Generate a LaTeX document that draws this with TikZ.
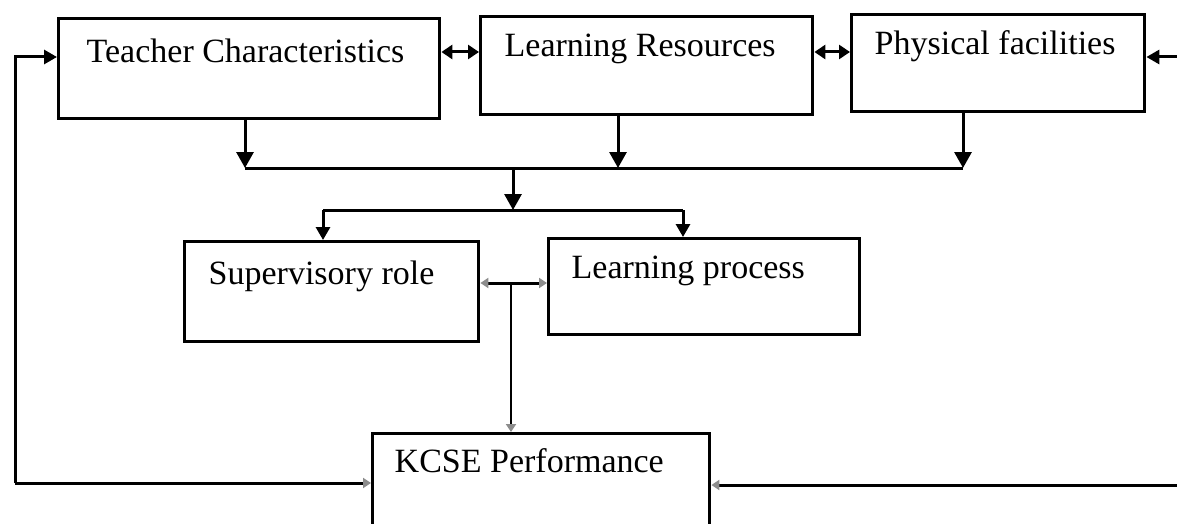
\documentclass[tikz,border=0pt]{standalone}
\usepackage{fontspec}
\setmainfont{Liberation Serif}
\usepackage{tikz}
\usetikzlibrary{arrows.meta,positioning}

\begin{document}
\begin{tikzpicture}[x=0.5pt,y=-0.5pt,line width=1.5pt]
\tikzset{box/.style={draw,line width=1.7pt,anchor=north west,align=flush left,inner ysep=0pt,font=\fontsize{17}{20}\selectfont},
  arr/.style={-{Triangle[length=8pt,width=8.5pt]}},
  arrs/.style={-{Triangle[length=6.5pt,width=7pt]}},
  dbl/.style={{Triangle[length=5.5pt,width=7pt]}-{Triangle[length=5.5pt,width=7pt]}},
  faint/.style={-{Triangle[length=4pt,width=5pt,color=black!45]}}}
\useasboundingbox (0,0) rectangle (1177,524);

% ---------- top row ----------
\node[box,inner xsep=14pt,text width=162.5pt,text height=22pt,text depth=28pt] (tc) at (57,17) {Teacher Characteristics};
\node[box,inner xsep=12pt,text width=142pt,text height=20pt,text depth=29pt] (lr) at (479,15) {Learning Resources};
\node[box,inner xsep=11.5pt,text width=123.5pt,text height=20pt,text depth=28.5pt] (pf) at (850,13) {Physical facilities};

\draw[dbl] (tc.east |- 0,52) -- (lr.west |- 0,52);
\draw[dbl] (lr.east |- 0,52) -- (pf.west |- 0,52);

% ---------- collecting bar ----------
\coordinate (tcd) at (245,168);
\coordinate (lrd) at (618,168);
\coordinate (pfd) at (963,168);
\draw[arr] (tc.south -| tcd) -- (tcd);
\draw[arr] (lr.south -| lrd) -- (lrd);
\draw[arr] (pf.south -| pfd) -- (pfd);
\draw (tcd) -- (pfd);

\coordinate (jn) at (513,168);
\coordinate (br) at (513,210);
\draw[arr] (jn) -- (br);

% ---------- middle row ----------
\node[box,inner xsep=12pt,text width=123pt,text height=21.5pt,text depth=28.5pt] (sr) at (183,240) {Supervisory role};
\node[box,inner xsep=11.5pt,text width=132.5pt,text height=20pt,text depth=28pt] (lp) at (547,237) {Learning process};

\coordinate (bs) at (323,210);
\coordinate (bp) at (683,210);
\draw (bs) -- (bp);
\draw[arrs] (bs) -- (sr.north -| bs);
\draw[arrs] (bp) -- (lp.north -| bp);

\coordinate (mid) at (511,283);
\draw[faint] (mid) -- (sr.east |- mid);
\draw[faint] (mid) -- (lp.west |- mid);

% ---------- bottom ----------
\node[box,inner xsep=11pt,text width=146.5pt,text height=19.5pt,text depth=54.5pt] (kcse) at (371,432) {KCSE Performance};
\draw[faint,line width=1.3pt] (mid) -- (kcse.north -| mid);

% feedback loops
\coordinate (l1) at (15,483);
\coordinate (l2) at (15,57);
\draw[faint] (l1) -- (kcse.west |- l1);
\draw[arrs] (l1) -- (l2) -- (tc.west |- l2);
\coordinate (r1) at (1177,485);
\coordinate (r2) at (1177,57);
\draw[faint] (r1) -- (kcse.east |- r1);
\draw[arrs] (r2) -- (pf.east |- r2);

\end{tikzpicture}
\end{document}
